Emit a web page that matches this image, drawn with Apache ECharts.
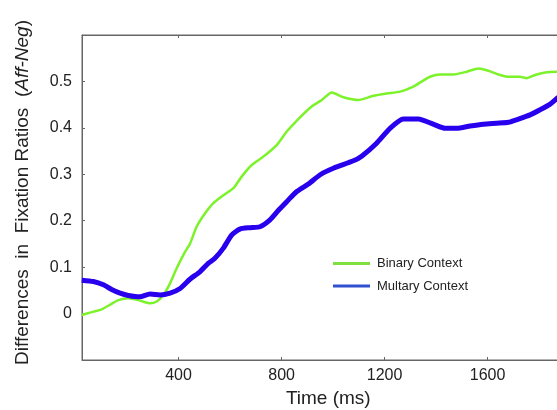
<!DOCTYPE html>
<html>
<head>
<meta charset="utf-8">
<script src="https://cdn.jsdelivr.net/npm/echarts@6/dist/echarts.min.js"></script>
<style>
  html, body { margin: 0; padding: 0; background: #ffffff; }
  #chart { width: 557px; height: 410px; }
</style>
</head>
<body>
<div id="chart"></div>
<script>
// Time axis ticks (ms)
const timeTicks = [400, 800, 1200, 1600, 2000];

// Binary Context (green)
const binaryTimes  = [24, 56, 101, 140, 166, 205, 244, 289, 315, 341, 367, 393, 425, 444, 470, 503, 535, 574, 613, 645, 684, 729, 781, 820, 865, 917, 956, 995, 1040, 1098, 1156, 1208, 1260, 1312, 1345, 1376, 1415, 1467, 1519, 1564, 1603, 1642, 1681, 1726, 1752, 1784, 1830, 1875];
const binaryValues = [-0.003, 0.002, 0.009, 0.021, 0.029, 0.033, 0.029, 0.022, 0.026, 0.040, 0.065, 0.098, 0.133, 0.150, 0.187, 0.216, 0.238, 0.255, 0.270, 0.295, 0.320, 0.338, 0.363, 0.392, 0.419, 0.446, 0.460, 0.476, 0.466, 0.460, 0.469, 0.474, 0.478, 0.489, 0.500, 0.510, 0.515, 0.515, 0.521, 0.528, 0.523, 0.515, 0.510, 0.510, 0.507, 0.514, 0.520, 0.521];

// Multary Context (blue)
const multaryTimes  = [24, 69, 108, 140, 173, 205, 250, 289, 328, 367, 406, 444, 483, 515, 541, 574, 606, 638, 677, 716, 755, 787, 820, 859, 904, 950, 1001, 1079, 1111, 1169, 1221, 1273, 1331, 1389, 1435, 1480, 1532, 1583, 1635, 1681, 1720, 1765, 1804, 1843, 1875];
const multaryValues = [0.072, 0.069, 0.062, 0.052, 0.044, 0.039, 0.036, 0.042, 0.040, 0.044, 0.054, 0.074, 0.090, 0.108, 0.119, 0.141, 0.169, 0.182, 0.185, 0.187, 0.202, 0.222, 0.241, 0.263, 0.279, 0.299, 0.313, 0.329, 0.339, 0.367, 0.399, 0.419, 0.419, 0.408, 0.399, 0.399, 0.404, 0.408, 0.410, 0.412, 0.419, 0.428, 0.439, 0.451, 0.466];

const pairs = (xs, ys) => xs.map((x, i) => [x, ys[i]]);

const FONT = '"Liberation Sans", Arial, sans-serif';
const GREEN = '#7cf22a';
const BLUE = '#2800ee';

const chart = echarts.init(document.getElementById('chart'), null, { renderer: 'canvas' });

chart.setOption({
  animation: false,
  backgroundColor: '#ffffff',
  textStyle: { fontFamily: FONT },
  grid: {
    left: 82, top: 35, width: 508.6, height: 325,
    show: true, borderColor: '#666666', borderWidth: 1,
    backgroundColor: 'transparent', containLabel: false,
    outerBoundsMode: 'none'
  },
  legend: {
    orient: 'vertical',
    left: 328, top: 252,
    itemWidth: 37, itemHeight: 14, itemGap: 9.5,
    textStyle: { fontFamily: FONT, fontSize: 13, color: '#222222', padding: [0, 0, 0, 2] },
    data: [
      { name: 'Binary Context', icon: 'path://M0,5.5 L37,5.5 L37,8.5 L0,8.5 Z', itemStyle: { color: '#80e040' } },
      { name: 'Multary Context', icon: 'path://M0,5.5 L37,5.5 L37,8.5 L0,8.5 Z', itemStyle: { color: '#3050d0' } }
    ]
  },
  xAxis: [
    {
      type: 'value', min: 25, max: 2000, position: 'bottom',
      axisLine: { show: true, onZero: false, lineStyle: { color: '#666666', width: 1 } },
      axisTick: { show: true, inside: true, length: 3, customValues: timeTicks, lineStyle: { color: '#666666' } },
      axisLabel: { customValues: timeTicks, fontFamily: FONT, fontSize: 16, color: '#222222', margin: 8, formatter: v => String(v) },
      splitLine: { show: false },
      name: 'Time (ms)', nameLocation: 'middle', nameGap: 28,
      nameTextStyle: { fontFamily: FONT, fontSize: 19, color: '#222222', padding: [0, 16, 0, 0] }
    },
    {
      type: 'value', min: 25, max: 2000, position: 'top',
      axisLine: { show: true, onZero: false, lineStyle: { color: '#666666', width: 1 } },
      axisTick: { show: true, inside: true, length: 3, customValues: timeTicks, lineStyle: { color: '#666666' } },
      axisLabel: { show: false },
      splitLine: { show: false }
    }
  ],
  yAxis: {
    type: 'value', min: -0.1, max: 0.6, interval: 0.1,
    axisLine: { show: true, onZero: false, lineStyle: { color: '#666666', width: 1 } },
    axisTick: { show: true, inside: true, length: 3, lineStyle: { color: '#666666' } },
    axisLabel: {
      showMinLabel: false, showMaxLabel: false,
      fontFamily: FONT, fontSize: 16, color: '#222222', margin: 10,
      formatter: v => (Math.abs(v) < 1e-9 ? '0' : v.toFixed(1))
    },
    splitLine: { show: false },
    name: 'Differences  in  Fixation Ratios  ({i|Aff-Neg})',
    nameLocation: 'middle', nameGap: 50, nameRotate: 90,
    nameTextStyle: {
      fontFamily: FONT, fontSize: 19, color: '#222222', padding: [0, 0, 0, 10],
      rich: { i: { fontFamily: FONT, fontSize: 19, fontStyle: 'italic', color: '#222222' } }
    }
  },
  series: [
    {
      name: 'Binary Context', type: 'line', xAxisIndex: 0,
      data: pairs(binaryTimes, binaryValues),
      symbol: 'none', smooth: 0.2, z: 2,
      lineStyle: { color: GREEN, width: 2.5 }, itemStyle: { color: GREEN }
    },
    {
      name: 'Multary Context', type: 'line', xAxisIndex: 0,
      data: pairs(multaryTimes, multaryValues),
      symbol: 'none', smooth: 0.2, z: 3,
      lineStyle: { color: BLUE, width: 5 }, itemStyle: { color: BLUE }
    }
  ]
});
</script>
</body>
</html>
